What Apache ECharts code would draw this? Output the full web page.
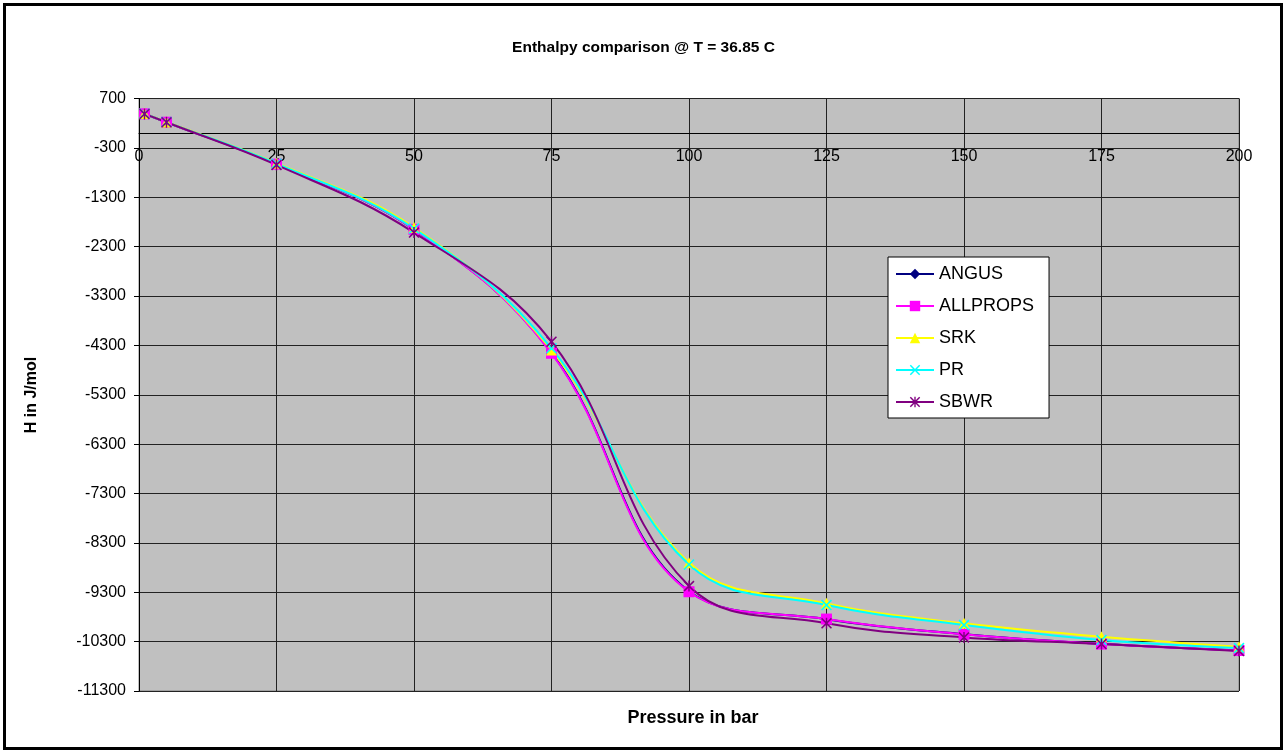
<!DOCTYPE html>
<html><head><meta charset="utf-8">
<script src="https://cdn.jsdelivr.net/npm/echarts@6/dist/echarts.min.js"></script>
<style>html,body{margin:0;padding:0;background:#fff}#c{width:1287px;height:753px}</style>
</head><body><div id="c"></div>
<script>
// Data (pressure in bar, enthalpy in J/mol)
const pressure = [1, 5, 25, 50, 75, 100, 125, 150, 175, 200];
const angus    = [390, 220, -630, -1950, -4445, -9280, -9845, -10150, -10345, -10480];
const allprops = [390, 220, -630, -1950, -4460, -9290, -9843, -10153, -10349, -10480];
const srk      = [395, 225, -610, -1915, -4394, -8700, -9525, -9930, -10200, -10404];
const pr       = [392, 222, -620, -1935, -4360, -8740, -9559, -9964, -10268, -10430];
const sbwr     = [388, 218, -645, -2015, -4226, -9174, -9930, -10214, -10349, -10490];
const seriesNames = ['ANGUS', 'ALLPROPS', 'SRK', 'PR', 'SBWR'];
const yTickMin = -11300, yTickMax = 700, yTickStep = 1000;
const xTickMin = 0, xTickMax = 200, xTickStep = 25;

const FONT = "'Liberation Sans', Arial, sans-serif";
const xSym = 'path://M0,1 L1,0 L5,4 L9,0 L10,1 L6,5 L10,9 L9,10 L5,6 L1,10 L0,9 L4,5 Z';
const starSym = 'path://M0,1 L1,0 L5,4 L9,0 L10,1 L6,5 L10,9 L9,10 L5,6 L1,10 L0,9 L4,5 Z M4.35,0 L5.65,0 L5.65,10 L4.35,10 Z';

function pairs(vals) { return pressure.map((p, i) => [p, vals[i]]); }

const styles = [
  {color: '#000080', symbol: 'diamond', size: 10},
  {color: '#FF00FF', symbol: 'rect', size: 11},
  {color: '#FFFF00', symbol: 'triangle', size: 11},
  {color: '#00FFFF', symbol: xSym, size: 11},
  {color: '#800080', symbol: starSym, size: 11}
];
const allData = [angus, allprops, srk, pr, sbwr];

// grid geometry
const gTop = 98.5, gBottom = 62, H = 753;
const plotH = H - gTop - gBottom;
// x axis crosses at y = 0 (as in the original spreadsheet chart)
const xAxisOffset = -plotH * (0 - yTickMin) / (yTickMax - yTickMin);

const chart = echarts.init(document.getElementById('c'), null, {renderer: 'canvas'});
chart.setOption({
  animation: false,
  backgroundColor: '#ffffff',
  title: {
    text: 'Enthalpy comparison @ T = 36.85 C',
    left: 'center', top: 35,
    textStyle: {fontFamily: FONT, fontSize: 15.5, fontWeight: 'bold', color: '#000'}
  },
  legend: {
    orient: 'vertical',
    left: 888, top: 257,
    padding: [7, 15, 6, 7],
    itemWidth: 38, itemHeight: 13, itemGap: 12,
    backgroundColor: '#ffffff',
    borderColor: '#000', borderWidth: 1, borderRadius: 0,
    textStyle: {fontFamily: FONT, fontSize: 18, color: '#000', lineHeight: 20},
    data: seriesNames
  },
  grid: {
    left: 139, right: 48, top: gTop, bottom: gBottom,
    show: true, backgroundColor: '#C0C0C0', borderColor: '#808080', borderWidth: 1
  },
  xAxis: {
    type: 'value', min: xTickMin, max: xTickMax, interval: xTickStep,
    position: 'bottom', offset: xAxisOffset,
    axisLine: {show: true, onZero: false, lineStyle: {color: '#000', width: 1}},
    axisTick: {show: false},
    axisLabel: {fontFamily: FONT, fontSize: 16, color: '#000', margin: 16},
    splitLine: {show: true, lineStyle: {color: '#222', width: 1}}
  },
  yAxis: {
    type: 'value', min: yTickMin, max: yTickMax, interval: yTickStep,
    axisLine: {show: true, onZero: false, lineStyle: {color: '#000', width: 1}},
    axisTick: {show: true, length: 5, lineStyle: {color: '#000'}},
    axisLabel: {fontFamily: FONT, fontSize: 16, color: '#000', margin: 13,
                formatter: v => String(v)},
    splitLine: {show: true, lineStyle: {color: '#222', width: 1}}
  },
  series: seriesNames.map((n, i) => ({
    name: n, type: 'line',
    data: pairs(allData[i]),
    smooth: 0.4,
    symbol: styles[i].symbol, symbolSize: styles[i].size,
    showAllSymbol: true,
    lineStyle: {color: styles[i].color, width: 2},
    itemStyle: {color: styles[i].color, borderWidth: 0}
  })),
  graphic: [
    {type: 'rect', shape: {x: 4.5, y: 4.5, width: 1277, height: 744},
     style: {fill: 'none', stroke: '#000', lineWidth: 3}, silent: true},
    {type: 'text', x: 693, y: 718,
     style: {text: 'Pressure in bar', font: "bold 18px 'Liberation Sans', Arial", fill: '#000', textAlign: 'center', textVerticalAlign: 'middle'}},
    {type: 'text', x: 32, y: 395, rotation: Math.PI / 2,
     style: {text: 'H in J/mol', font: "bold 16px 'Liberation Sans', Arial", fill: '#000', textAlign: 'center', textVerticalAlign: 'middle'}}
  ]
});
</script></body></html>
